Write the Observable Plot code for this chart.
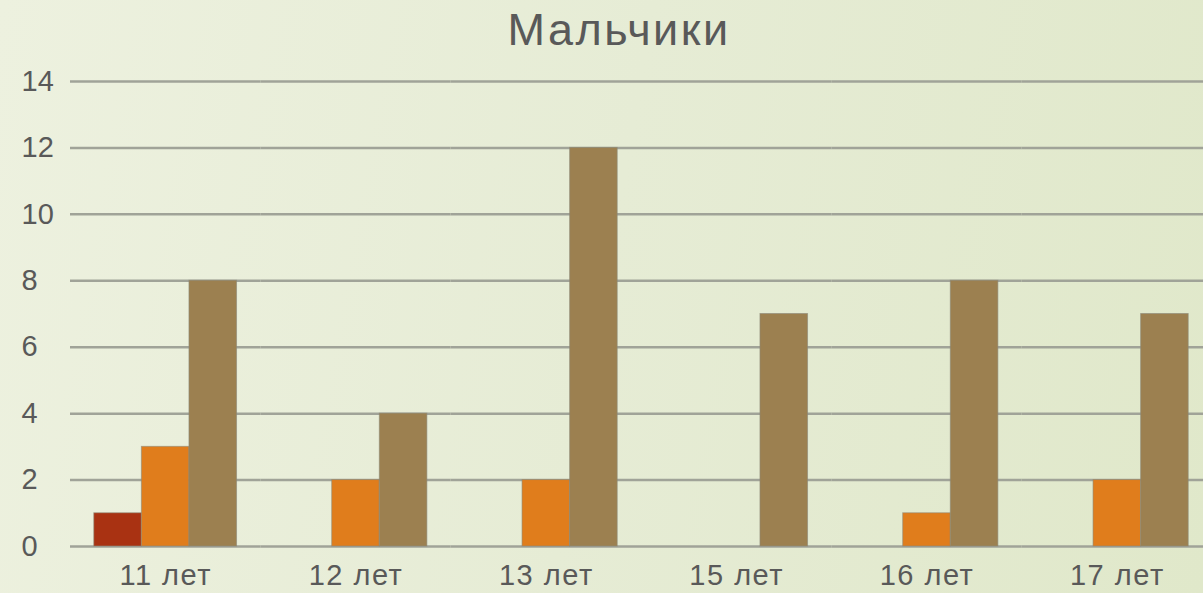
<!DOCTYPE html>
<html>
<head>
<meta charset="utf-8">
<script src="https://cdn.jsdelivr.net/npm/d3@7"></script>
<script src="https://cdn.jsdelivr.net/npm/@observablehq/plot@0.6"></script>
<style>
  html, body { margin: 0; padding: 0; overflow: hidden; }
  body {
    width: 1203px; height: 593px;
    background: linear-gradient(100deg, #edf1df 0%, #e6ecd5 50%, #e0e8ca 100%);
    font-family: "Liberation Sans", Arial, sans-serif;
  }
  #head { position: relative; height: 62px; width: 1203px; }
  #title {
    position: absolute; left: 0; width: 1238px; top: 7px;
    text-align: center; font-size: 45px; line-height: 45px; letter-spacing: 2.5px; color: #595959;
  }
  #chart svg { display: block; overflow: visible; max-width: none !important; }
  .fxlab text { letter-spacing: 1.5px; }
</style>
</head>
<body>
<div id="head"><div id="title">Мальчики</div></div>
<div id="chart"></div>
<script>
const ages = ["11 лет", "12 лет", "13 лет", "15 лет", "16 лет", "17 лет"];
const seriesNames = ["Ряд 1", "Ряд 2", "Ряд 3"];
const series1 = [1, 0, 0, 0, 0, 0];
const series2 = [3, 2, 2, 0, 1, 2];
const series3 = [8, 4, 12, 7, 8, 7];
const colors = ["#a93212", "#e07d1c", "#9c8050"];
const yTicks = [0, 2, 4, 6, 8, 10, 12, 14];

const allSeries = [series1, series2, series3];
const data = [];
ages.forEach((age, i) => {
  seriesNames.forEach((s, j) => data.push({age, series: s, value: allSeries[j][i]}));
});

const chart = Plot.plot({
  width: 1212,
  height: 531,
  marginLeft: 70,
  marginRight: 0,
  marginTop: 19,
  marginBottom: 47,
  style: {fontFamily: "'Liberation Sans', Arial, sans-serif", fontSize: "29px", color: "#595959", background: "transparent"},
  fx: {domain: ages, padding: 0, round: false, label: null},
  x: {domain: seriesNames, paddingInner: 0, paddingOuter: 0.5, round: false, axis: null},
  y: {domain: [0, 14], label: null, axis: null},
  color: {domain: seriesNames, range: colors},
  marks: [
    Plot.ruleY(yTicks, {stroke: "#a0a398", strokeWidth: 2.5}),
    Plot.barY(data, {fx: "age", x: "series", y: "value", fill: "series",
      filter: d => d.value > 0, stroke: "#8c8878", strokeOpacity: 0.6, strokeWidth: 1}),
    Plot.axisY({ticks: yTicks, tickSize: 0, tickPadding: 3, textAnchor: "start", dx: -46, fill: "#595959", label: null}),
    Plot.axisFx({anchor: "bottom", tickSize: 0, tickPadding: 18, fill: "#595959", label: null, className: "fxlab"})
  ]
});
document.getElementById("chart").appendChild(chart);
</script>
</body>
</html>
